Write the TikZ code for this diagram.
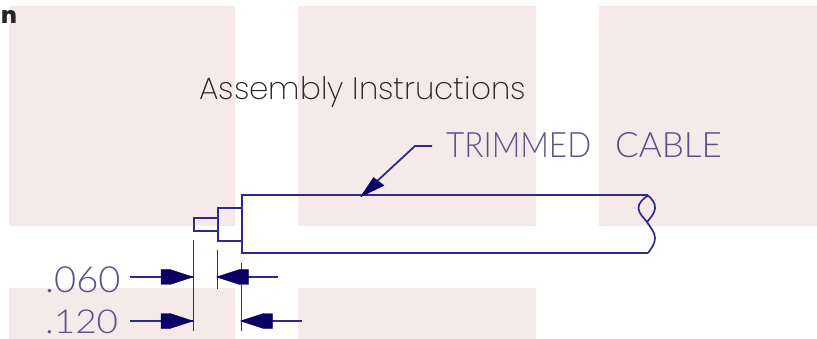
\documentclass[tikz,border=0pt]{standalone}
\usepackage{fontspec}
\setmainfont{Poppins}
\newfontfamily\cornerfont{Poppins ExtraBold}
\newfontfamily\headfont{Poppins ExtraLight}
\newfontfamily\cadfont{Lato Light}
\newfontfamily\cadnarrow[FakeStretch=0.9]{Lato Light}
\newfontfamily\cadwide[FakeStretch=1.06]{Lato Light}
\newfontfamily\cadwider[FakeStretch=1.12]{Lato Light}
\definecolor{pinkbg}{HTML}{F5E9EA}
\definecolor{cadline}{HTML}{2F2A8C}
\definecolor{cadtip}{HTML}{0B0065}
\definecolor{cadtext}{HTML}{5B5284}
\definecolor{headtext}{HTML}{2A2226}
\tikzset{
  x=1pt,y=-1pt,
  bgbox/.style={fill=pinkbg,draw=none},
  wire/.style={draw=cadline,line width=2pt},
  extline/.style={draw=cadline,line width=1.8pt},
  dimline/.style={draw=cadline,line width=1.8pt},
  headfill/.style={fill=cadtip,draw=cadtip,line width=.4pt,line join=round},
  cadlabel/.style={text=cadtext,inner sep=0pt,anchor=base west},
}
\newcommand{\dimhead}[3]{% tip x, direction (+1 = body to the right), y
  \fill[headfill] (#1,#3) -- ({#1+#2*23},{#3-7.5}) -- ({#1+#2*32},{#3-7.5}) -- ({#1+#2*32},{#3+7.5}) -- ({#1+#2*23},{#3+7.5}) -- cycle;}
\begin{document}
\begin{tikzpicture}
\useasboundingbox (0,0) rectangle (817,339);
\fill[white] (0,0) rectangle (817,339);
\fill[bgbox] (9,6) rectangle (235,226);
\fill[bgbox] (298,6) rectangle (536,226);
\fill[bgbox] (599,6) rectangle (817,226);
\fill[bgbox] (9,288) rectangle (235,339);
\fill[bgbox] (298,288) rectangle (536,339);
\node[inner sep=0pt,anchor=base west,font=\cornerfont\fontsize{23}{23}\selectfont,text=black!85] (corner) at (1,24) {n};
\node[inner sep=0pt,anchor=base west,font=\headfont\fontsize{31}{31}\selectfont,text=headtext] (title) at (199,100) {Assembly Instructions};
% cable
\coordinate (tr) at (648,195.5);
\coordinate (br) at (648,253);
\draw[wire] (tr) -- (241.5,195.5) -- (241.5,253) -- (br);
\draw[wire] (241.5,208.5) -- (217.5,208.5) -- (217.5,241) -- (241.5,241);
\draw[wire] (217.5,218.5) -- (193.5,218.5) -- (193.5,231) -- (217.5,231);
\draw[wire,line width=1.7pt] (tr) .. controls (643,199) and (638,203) .. (638.5,208.5)
  .. controls (639,214) and (644,218) .. (647,222)
  .. controls (650,227) and (655,232) .. (655,238)
  .. controls (655,244) and (651,249) .. (br);
\draw[wire,line width=1.7pt] (tr) .. controls (652,199) and (655.5,203) .. (655,208.5)
  .. controls (654.5,214) and (650,218) .. (647,222);
% dimension extension lines
\draw[extline] (193.5,240) coordinate (e1a) -- (193.5,331) coordinate (e1b);
\draw[extline] (217.5,250) coordinate (e2a) -- (217.5,289) coordinate (e2b);
\draw[extline] (241.5,263) coordinate (e3a) -- (241.5,331) coordinate (e3b);
\coordinate (a1s) at (130,277); \coordinate (a1e) at (193.5,277);
\coordinate (a2s) at (278,277); \coordinate (a2e) at (216.5,277);
\coordinate (a3s) at (130,321); \coordinate (a3e) at (193.5,321);
\coordinate (a4s) at (302,321); \coordinate (a4e) at (240.5,321);
\draw[dimline] (a1s) -- (a1e);
\draw[dimline] (a2s) -- (a2e);
\draw[dimline] (a3s) -- (a3e);
\draw[dimline] (a4s) -- (a4e);
\dimhead{193}{-1}{277}
\dimhead{216.5}{1}{277}
\dimhead{193}{-1}{321}
\dimhead{240.5}{1}{321}
% leader
\coordinate (l0) at (432,146); \coordinate (l1) at (415,146); \coordinate (l2) at (361,196);
\draw[dimline] (l0) -- (l1) -- (l2);
\fill[headfill] (360.7,196.7) -- (373.5,177.5) -- (384,185.5) -- cycle;
% labels
\node[cadlabel,font=\cadwide\fontsize{36}{36}\selectfont] (l060) at (45,292) {.060};
\node[cadlabel,font=\cadwider\fontsize{33}{33}\selectfont] (l120) at (45,333) {.120};
\node[cadlabel,font=\cadfont\fontsize{35}{35}\selectfont] (cab) at (446,158) {{\cadnarrow TRIMMED}\hspace{24pt}CABLE};
\end{tikzpicture}
\end{document}
